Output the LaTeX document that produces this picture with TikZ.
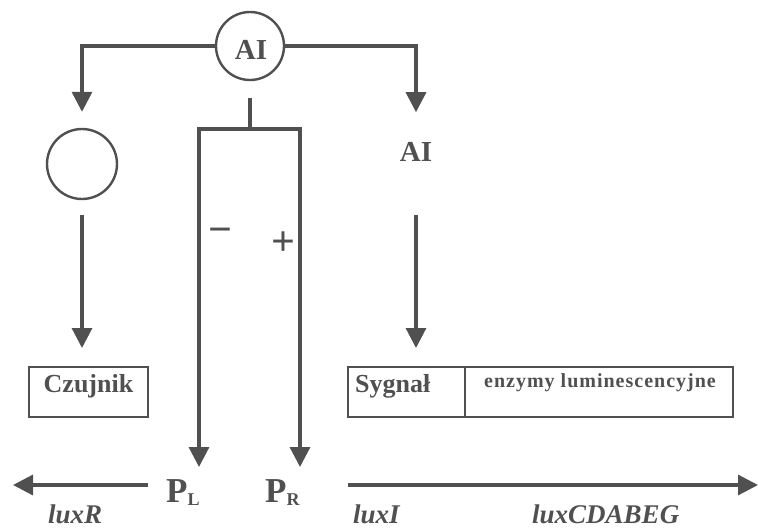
\documentclass[tikz,border=0pt]{standalone}
\usepackage{fontspec}
\setmainfont{Liberation Serif}
\usetikzlibrary{arrows.meta}
\definecolor{ink}{HTML}{505050}
\newcommand{\fsz}[1]{\fontsize{#1}{#1}\selectfont}
\begin{document}
\begin{tikzpicture}[x=1pt,y=-1pt,
  wire/.style={draw=ink, line width=3.2pt},
  flow/.style={wire, -{Triangle[length=20pt,width=20pt]}},
  ring/.style={circle, draw=ink, line width=2.4pt, inner sep=0pt},
  frame/.style={draw=ink, line width=1.6pt, inner sep=0pt},
  lbl/.style={text=ink, font=\fsz{26}\bfseries, inner sep=0pt},
  promoter/.style={text=ink, font=\fsz{35}\bfseries, inner sep=0pt, anchor=base west},
  gene/.style={text=ink, font=\fsz{27}\bfseries\itshape, inner sep=0pt, anchor=base west},
  sign/.style={text=ink, font=\fsz{42}\bfseries, inner sep=0pt},
]
\useasboundingbox (0,0) rectangle (758,528);

% autoinducer and its three routes
\node[ring, minimum size=68] (ai) at (250,46) {};
\node[lbl, font=\fsz{29}\bfseries] (aitxt) at (251,50) {AI};
\node[ring, minimum size=70] (sensor) at (82,164) {};
\node[lbl, font=\fsz{29}\bfseries] (ai2) at (416,152) {AI};

\draw[flow] (ai.west) -| ([yshift=16pt]sensor.north);
\draw[flow] (ai.east) -| ([yshift=30pt]ai2.north);

% boxes
\node[frame, minimum width=119, minimum height=50] (czbox) at (88.5,392) {};
\node[lbl, anchor=base] (cz) at (88.5,392) {Czujnik};
\node[frame, minimum width=117, minimum height=50] (sgbox) at (406.5,392) {};
\node[frame, minimum width=268, minimum height=50] (enbox) at (599,392) {};
\node[lbl, anchor=base west] (sg) at (355,392) {Sygnał};
\node[lbl, anchor=base, font=\fsz{20}\bfseries\addfontfeature{LetterSpace=5}] (en) at (600,387) {enzymy luminescencyjne};

% arrows into the boxes
\coordinate (czout) at (82,215);
\coordinate (czin) at (82,348);
\coordinate (sgout) at (416,215);
\coordinate (sgin) at (416,348);
\draw[flow] (czout) -- (czin);
\draw[flow] (sgout) -- (sgin);

% promoters
\node[promoter] (PL) at (166,502) {P\raisebox{-3pt}{\fsz{18}L}};
\node[promoter] (PR) at (265,502) {P\raisebox{-3pt}{\fsz{18}R}};

% regulation fork below AI
\coordinate (fork) at (250,129);
\coordinate (forkL) at (199,129);
\coordinate (forkR) at (300,129);
\coordinate (inL) at (199,467);
\coordinate (inR) at (300,467);
\draw[wire] ([yshift=-17pt]ai.south) -- (fork);
\draw[wire, line cap=rect] (forkL) -- (forkR);
\draw[flow] (forkL) -- (inL);
\draw[flow] (forkR) -- (inR);
\node[sign] (minus) at (220,236) {−};
\node[sign] (plus) at (283,244) {+};

% transcription directions
\coordinate (startL) at (148,485);
\coordinate (endL) at (13,485);
\coordinate (startR) at (348,485);
\coordinate (endR) at (758,485);
\draw[flow] (startL) -- (endL);
\draw[flow] (startR) -- (endR);

% genes
\node[gene] (luxR) at (48,523) {luxR};
\node[gene] (luxI) at (353,523) {luxI};
\node[gene] (luxC) at (532,523) {luxCDABEG};
\end{tikzpicture}
\end{document}
